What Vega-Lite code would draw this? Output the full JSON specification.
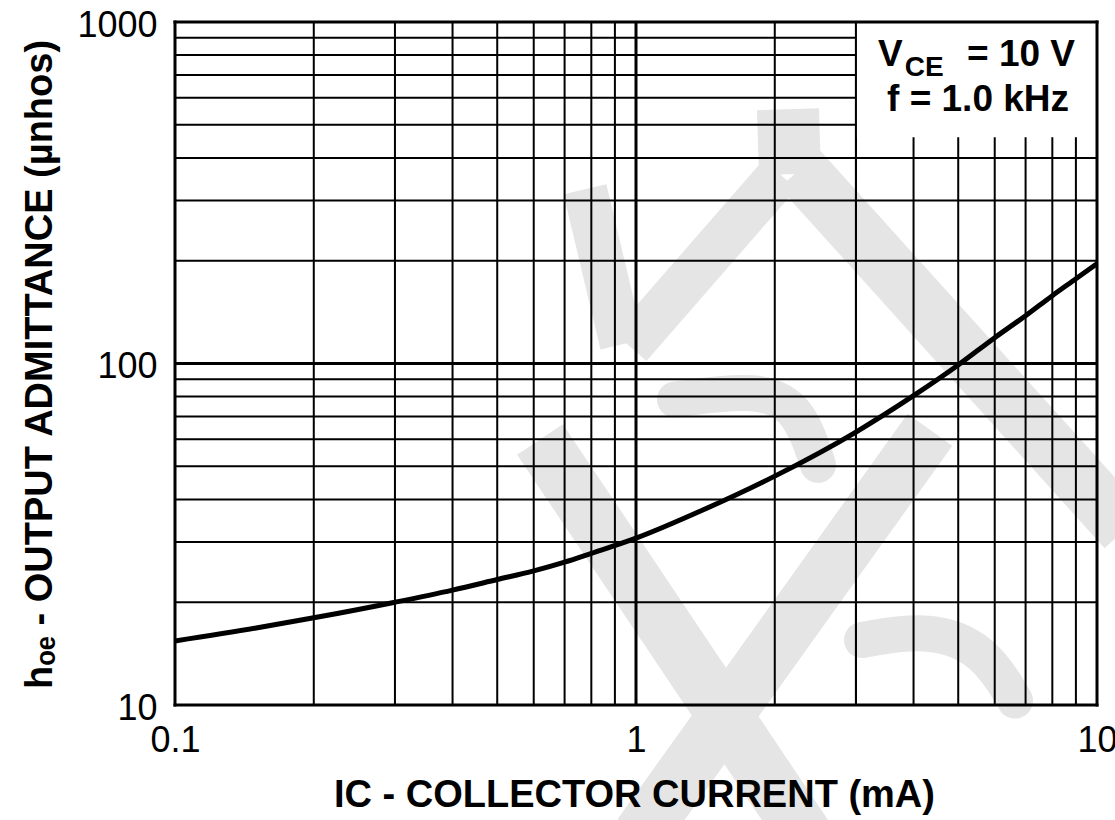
{
  "$schema": "https://vega.github.io/schema/vega-lite/v6.json",
  "width": 922,
  "height": 683,
  "autosize": {"type": "none"},
  "padding": {"left": 175, "top": 22, "right": 18, "bottom": 115},
  "background": "white",
  "config": {
    "view": {"stroke": null},
    "font": "Liberation Sans",
    "axis": {
      "grid": false, "domain": false, "ticks": false, "tickSize": 0,
      "labelFontSize": 36, "labelColor": "#000", "labelFont": "Liberation Sans",
      "labelPadding": 18, "labelFlush": false, "labelOverlap": false,
      "titleFont": "Liberation Sans", "titleFontSize": 38, "titleFontWeight": "bold", "titleColor": "#000",
      "titleAlign": "center", "titleBaseline": "middle"
    },
    "axisX": {"titleX": 459, "titleY": 90},
    "axisY": {"titleX": -135, "titleY": 342, "titleAngle": -90, "labelOffset": 3}
  },
  "datasets": {
    "wmWide": [
      {"s": "W2", "o": 0, "ic": 2.268, "hoe": 370.6},
      {"s": "W2", "o": 1, "ic": 11.5, "hoe": 32.6},
      {"s": "S1", "o": 0, "ic": 0.619, "hoe": 59.9},
      {"s": "S1", "o": 1, "ic": 2.326, "hoe": 4.16},
      {"s": "S3", "o": 0, "ic": 4.342, "hoe": 64.0},
      {"s": "S3", "o": 1, "ic": 1.02, "hoe": 4.16}
    ],
    "wmMid": [
      {"s": "W1", "o": 0, "ic": 2.053, "hoe": 358.3},
      {"s": "W1", "o": 1, "ic": 0.97, "hoe": 112.2},
      {"s": "W3", "o": 0, "ic": 0.775, "hoe": 323.8},
      {"s": "W3", "o": 1, "ic": 0.932, "hoe": 113.7}
    ],
    "wmBlock": [
      {"s": "B", "o": 0, "ic": 2.136, "hoe": 555.6},
      {"s": "B", "o": 1, "ic": 2.158, "hoe": 358.3}
    ],
    "wmCurve": [
      {"s": "SW", "o": 0, "ic": 1.215, "hoe": 78.4},
      {"s": "SW", "o": 1, "ic": 1.858, "hoe": 85.0},
      {"s": "SW", "o": 2, "ic": 2.268, "hoe": 73.3},
      {"s": "SW", "o": 3, "ic": 2.482, "hoe": 50.5},
      {"s": "BL", "o": 0, "ic": 3.092, "hoe": 15.5},
      {"s": "BL", "o": 1, "ic": 4.342, "hoe": 16.8},
      {"s": "BL", "o": 2, "ic": 5.715, "hoe": 14.5},
      {"s": "BL", "o": 3, "ic": 6.64, "hoe": 10.3}
    ],
    "xgrid": [
      {"ic": 0.2}, {"ic": 0.3}, {"ic": 0.4}, {"ic": 0.5}, {"ic": 0.6}, {"ic": 0.7}, {"ic": 0.8}, {"ic": 0.9},
      {"ic": 2}, {"ic": 3}, {"ic": 4}, {"ic": 5}, {"ic": 6}, {"ic": 7}, {"ic": 8}, {"ic": 9}
    ],
    "ygrid": [
      {"hoe": 20}, {"hoe": 30}, {"hoe": 40}, {"hoe": 50}, {"hoe": 60}, {"hoe": 70}, {"hoe": 80}, {"hoe": 90},
      {"hoe": 200}, {"hoe": 300}, {"hoe": 400}, {"hoe": 500}, {"hoe": 600}, {"hoe": 700}, {"hoe": 800}, {"hoe": 900}
    ],
    "xmajor": [{"ic": 1}],
    "ymajor": [{"hoe": 100}],
    "xbox": [{"ic": 3}],
    "xframe": [{"ic": 0.1}, {"ic": 10}],
    "yframe": [{"hoe": 10}, {"hoe": 1000}],
    "one": [{}],
    "curve": [
      {"ic": 0.1, "hoe": 15.4},
      {"ic": 0.15, "hoe": 16.8},
      {"ic": 0.2, "hoe": 18.0},
      {"ic": 0.3, "hoe": 20.0},
      {"ic": 0.4, "hoe": 21.7},
      {"ic": 0.5, "hoe": 23.3},
      {"ic": 0.6, "hoe": 24.7},
      {"ic": 0.7, "hoe": 26.2},
      {"ic": 0.8, "hoe": 27.8},
      {"ic": 1.0, "hoe": 30.8},
      {"ic": 1.4, "hoe": 37.3},
      {"ic": 2.0, "hoe": 46.8},
      {"ic": 3.0, "hoe": 63.0},
      {"ic": 4.0, "hoe": 80.5},
      {"ic": 5.0, "hoe": 99.0},
      {"ic": 6.0, "hoe": 119.0},
      {"ic": 7.0, "hoe": 138.0},
      {"ic": 8.0, "hoe": 158.0},
      {"ic": 9.0, "hoe": 177.0},
      {"ic": 10.0, "hoe": 196.0}
    ]
  },
  "layer": [
    {
      "data": {"name": "wmWide"},
      "mark": {"type": "line", "color": "#e5e5e5", "strokeWidth": 55, "strokeCap": "butt", "clip": false},
      "encoding": {
        "x": {"field": "ic", "type": "quantitative", "scale": {"type": "log", "domain": [0.1, 10], "nice": false},
              "axis": {"values": [0.1, 1, 10], "format": "~g", "zindex": 1, "title": "IC - COLLECTOR CURRENT (mA)"}},
        "y": {"field": "hoe", "type": "quantitative", "scale": {"type": "log", "domain": [10, 1000], "nice": false},
              "axis": {"values": [10, 100, 1000], "format": "~g", "zindex": 1, "title": "hₒₑ - OUTPUT ADMITTANCE (µnhos)"}},
        "detail": {"field": "s"},
        "order": {"field": "o"}
      }
    },
    {
      "data": {"name": "wmMid"},
      "mark": {"type": "line", "color": "#e5e5e5", "strokeWidth": 44, "strokeCap": "butt", "clip": false},
      "encoding": {
        "x": {"field": "ic", "type": "quantitative", "scale": {"type": "log", "domain": [0.1, 10], "nice": false},
              "axis": {"values": [0.1, 1, 10], "format": "~g", "zindex": 1, "title": "IC - COLLECTOR CURRENT (mA)"}},
        "y": {"field": "hoe", "type": "quantitative", "scale": {"type": "log", "domain": [10, 1000], "nice": false},
              "axis": {"values": [10, 100, 1000], "format": "~g", "zindex": 1, "title": "hₒₑ - OUTPUT ADMITTANCE (µnhos)"}},
        "detail": {"field": "s"},
        "order": {"field": "o"}
      }
    },
    {
      "data": {"name": "wmBlock"},
      "mark": {"type": "line", "color": "#e5e5e5", "strokeWidth": 62, "strokeCap": "butt", "clip": false},
      "encoding": {
        "x": {"field": "ic", "type": "quantitative", "scale": {"type": "log", "domain": [0.1, 10], "nice": false},
              "axis": {"values": [0.1, 1, 10], "format": "~g", "zindex": 1, "title": "IC - COLLECTOR CURRENT (mA)"}},
        "y": {"field": "hoe", "type": "quantitative", "scale": {"type": "log", "domain": [10, 1000], "nice": false},
              "axis": {"values": [10, 100, 1000], "format": "~g", "zindex": 1, "title": "hₒₑ - OUTPUT ADMITTANCE (µnhos)"}},
        "detail": {"field": "s"},
        "order": {"field": "o"}
      }
    },
    {
      "data": {"name": "wmCurve"},
      "mark": {"type": "line", "color": "#e5e5e5", "strokeWidth": 36, "strokeCap": "round", "interpolate": "basis", "clip": false},
      "encoding": {
        "x": {"field": "ic", "type": "quantitative", "scale": {"type": "log", "domain": [0.1, 10], "nice": false},
              "axis": {"values": [0.1, 1, 10], "format": "~g", "zindex": 1, "title": "IC - COLLECTOR CURRENT (mA)"}},
        "y": {"field": "hoe", "type": "quantitative", "scale": {"type": "log", "domain": [10, 1000], "nice": false},
              "axis": {"values": [10, 100, 1000], "format": "~g", "zindex": 1, "title": "hₒₑ - OUTPUT ADMITTANCE (µnhos)"}},
        "detail": {"field": "s"},
        "order": {"field": "o"}
      }
    },
    {
      "data": {"name": "xgrid"},
      "mark": {"type": "rule", "color": "#000", "strokeWidth": 2},
      "encoding": {
        "x": {"field": "ic", "type": "quantitative", "scale": {"type": "log", "domain": [0.1, 10], "nice": false},
              "axis": {"values": [0.1, 1, 10], "format": "~g", "zindex": 1, "title": "IC - COLLECTOR CURRENT (mA)"}}
      }
    },
    {
      "data": {"name": "ygrid"},
      "mark": {"type": "rule", "color": "#000", "strokeWidth": 2},
      "encoding": {
        "y": {"field": "hoe", "type": "quantitative", "scale": {"type": "log", "domain": [10, 1000], "nice": false},
              "axis": {"values": [10, 100, 1000], "format": "~g", "zindex": 1, "title": "hₒₑ - OUTPUT ADMITTANCE (µnhos)"}}
      }
    },
    {
      "data": {"name": "xmajor"},
      "mark": {"type": "rule", "color": "#000", "strokeWidth": 3},
      "encoding": {
        "x": {"field": "ic", "type": "quantitative", "scale": {"type": "log", "domain": [0.1, 10], "nice": false},
              "axis": {"values": [0.1, 1, 10], "format": "~g", "zindex": 1, "title": "IC - COLLECTOR CURRENT (mA)"}}
      }
    },
    {
      "data": {"name": "ymajor"},
      "mark": {"type": "rule", "color": "#000", "strokeWidth": 3},
      "encoding": {
        "y": {"field": "hoe", "type": "quantitative", "scale": {"type": "log", "domain": [10, 1000], "nice": false},
              "axis": {"values": [10, 100, 1000], "format": "~g", "zindex": 1, "title": "hₒₑ - OUTPUT ADMITTANCE (µnhos)"}}
      }
    },
    {
      "data": {"name": "one"},
      "mark": {"type": "rect", "fill": "white"},
      "encoding": {
        "x": {"datum": 3, "type": "quantitative", "scale": {"type": "log", "domain": [0.1, 10], "nice": false},
              "axis": {"values": [0.1, 1, 10], "format": "~g", "zindex": 1, "title": "IC - COLLECTOR CURRENT (mA)"}},
        "x2": {"datum": 10},
        "y": {"datum": 460, "type": "quantitative", "scale": {"type": "log", "domain": [10, 1000], "nice": false},
              "axis": {"values": [10, 100, 1000], "format": "~g", "zindex": 1, "title": "hₒₑ - OUTPUT ADMITTANCE (µnhos)"}},
        "y2": {"datum": 1000}
      }
    },
    {
      "data": {"name": "xbox"},
      "mark": {"type": "rule", "color": "#000", "strokeWidth": 2},
      "encoding": {
        "x": {"field": "ic", "type": "quantitative", "scale": {"type": "log", "domain": [0.1, 10], "nice": false},
              "axis": {"values": [0.1, 1, 10], "format": "~g", "zindex": 1, "title": "IC - COLLECTOR CURRENT (mA)"}}
      }
    },
    {
      "data": {"name": "xframe"},
      "mark": {"type": "rule", "color": "#000", "strokeWidth": 3, "strokeCap": "square"},
      "encoding": {
        "x": {"field": "ic", "type": "quantitative", "scale": {"type": "log", "domain": [0.1, 10], "nice": false},
              "axis": {"values": [0.1, 1, 10], "format": "~g", "zindex": 1, "title": "IC - COLLECTOR CURRENT (mA)"}}
      }
    },
    {
      "data": {"name": "yframe"},
      "mark": {"type": "rule", "color": "#000", "strokeWidth": 3, "strokeCap": "square"},
      "encoding": {
        "y": {"field": "hoe", "type": "quantitative", "scale": {"type": "log", "domain": [10, 1000], "nice": false},
              "axis": {"values": [10, 100, 1000], "format": "~g", "zindex": 1, "title": "hₒₑ - OUTPUT ADMITTANCE (µnhos)"}}
      }
    },
    {
      "data": {"name": "curve"},
      "mark": {"type": "line", "color": "#000", "strokeWidth": 5, "interpolate": "monotone"},
      "encoding": {
        "x": {"field": "ic", "type": "quantitative", "scale": {"type": "log", "domain": [0.1, 10], "nice": false},
              "axis": {"values": [0.1, 1, 10], "format": "~g", "zindex": 1, "title": "IC - COLLECTOR CURRENT (mA)"}},
        "y": {"field": "hoe", "type": "quantitative", "scale": {"type": "log", "domain": [10, 1000], "nice": false},
              "axis": {"values": [10, 100, 1000], "format": "~g", "zindex": 1, "title": "hₒₑ - OUTPUT ADMITTANCE (µnhos)"}}
      }
    },
    {
      "data": {"name": "one"},
      "layer": [
        {
          "mark": {"type": "text", "text": "V", "align": "left", "baseline": "alphabetic", "fontSize": 37, "fontWeight": "bold", "color": "#000"},
          "encoding": {"x": {"datum": 3.35, "type": "quantitative"}, "y": {"datum": 743, "type": "quantitative"}}
        },
        {
          "mark": {"type": "text", "text": "CE", "align": "left", "baseline": "alphabetic", "fontSize": 28, "fontWeight": "bold", "color": "#000"},
          "encoding": {"x": {"datum": 3.83, "type": "quantitative"}, "y": {"datum": 695, "type": "quantitative"}}
        },
        {
          "mark": {"type": "text", "text": "= 10 V", "align": "right", "baseline": "alphabetic", "fontSize": 37, "fontWeight": "bold", "color": "#000"},
          "encoding": {"x": {"datum": 8.96, "type": "quantitative"}, "y": {"datum": 743, "type": "quantitative"}}
        },
        {
          "mark": {"type": "text", "text": "f = 1.0 kHz", "align": "center", "baseline": "alphabetic", "fontSize": 37, "fontWeight": "bold", "color": "#000"},
          "encoding": {"x": {"datum": 5.52, "type": "quantitative"}, "y": {"datum": 548, "type": "quantitative"}}
        }
      ]
    }
  ]
}
